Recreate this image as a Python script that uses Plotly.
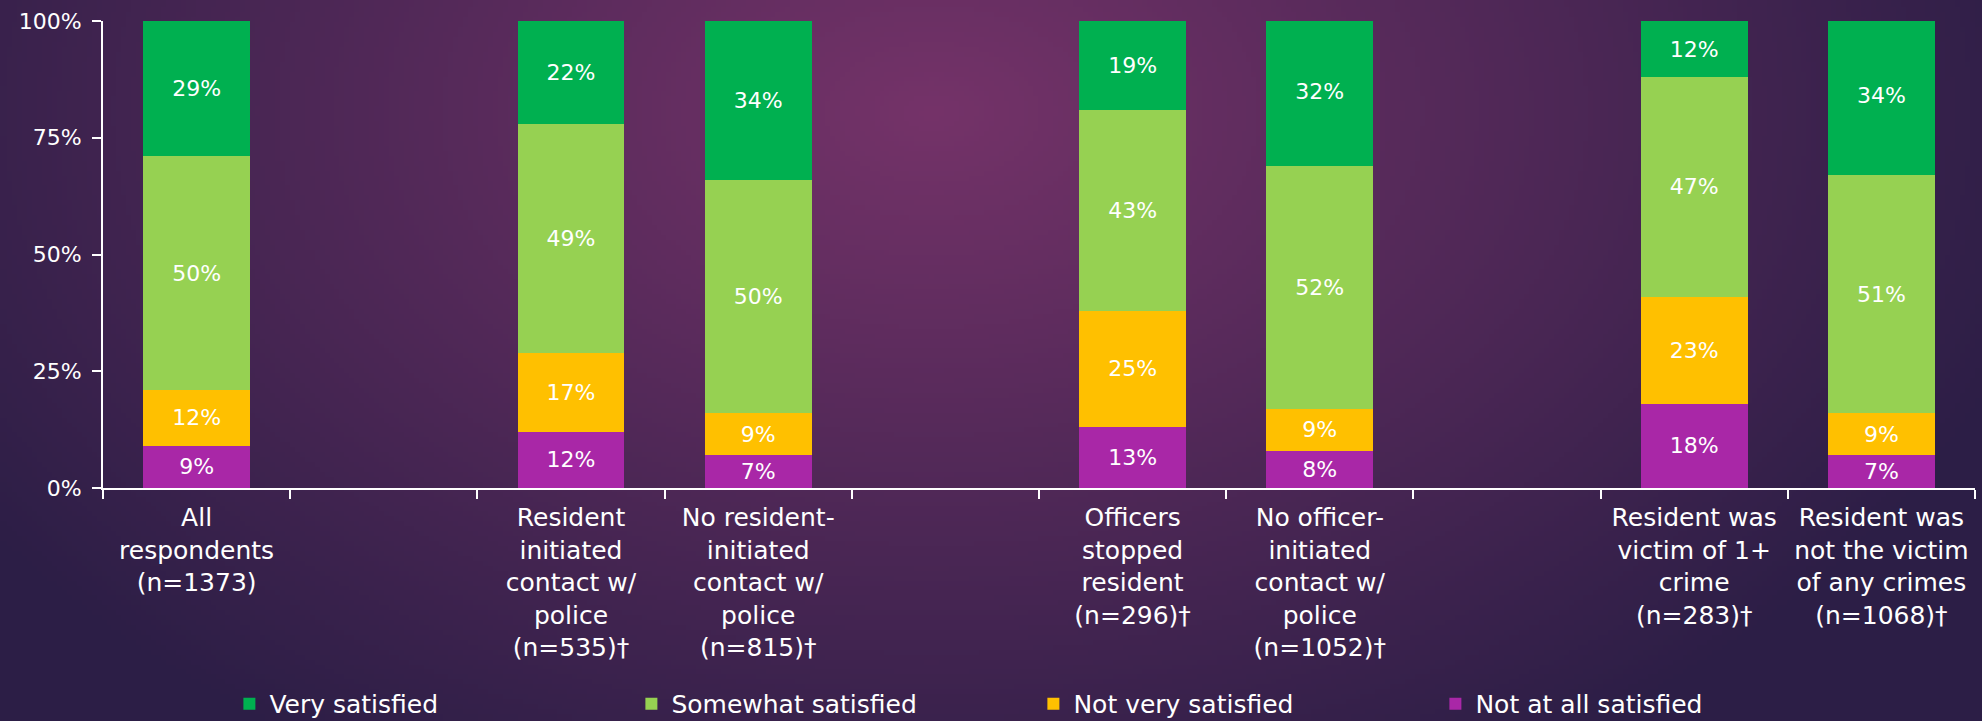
import base64
import struct
import zlib

import numpy as np
import plotly.graph_objects as go

# categories (blank ones are spacer slots between the groups)
categories = [
    "All<br>respondents<br>(n=1373)",
    " ",
    "Resident<br>initiated<br>contact w/<br>police<br>(n=535)†",
    "No resident-<br>initiated<br>contact w/<br>police<br>(n=815)†",
    "  ",
    "Officers<br>stopped<br>resident<br>(n=296)†",
    "No officer-<br>initiated<br>contact w/<br>police<br>(n=1052)†",
    "   ",
    "Resident was<br>victim of 1+<br>crime<br>(n=283)†",
    "Resident was<br>not the victim<br>of any crimes<br>(n=1068)†",
]

very_satisfied = [29, None, 22, 34, None, 19, 32, None, 12, 34]
somewhat_satisfied = [50, None, 49, 50, None, 43, 52, None, 47, 51]
not_very_satisfied = [12, None, 17, 9, None, 25, 9, None, 23, 9]
not_at_all_satisfied = [9, None, 12, 7, None, 13, 8, None, 18, 7]

y_ticks = [0, 25, 50, 75, 100]
y_tick_labels = ["0%", "25%", "50%", "75%", "100%"]

W, H = 1982, 721
ML, MR, MT, MB = 103, 7, 21, 233
font_family = "DejaVu Sans, sans-serif"


# purple radial background, built as a small png
def gradient_png(w=400, h=146):
    yy, xx = np.mgrid[0:h, 0:w]
    xx = xx * W / w
    yy = yy * H / h
    d = np.sqrt(((xx - 930) / 1150) ** 2 + ((yy - 110) / 760) ** 2)
    d = np.clip(d, 0, 1)
    c0 = np.array([117, 51, 105])
    c1 = np.array([44, 30, 70])
    img = (c0 + (c1 - c0) * d[..., None]).astype(np.uint8)
    raw = b"".join(b"\x00" + img[r].tobytes() for r in range(h))

    def chunk(tag, data):
        return struct.pack(">I", len(data)) + tag + data + struct.pack(">I", zlib.crc32(tag + data) & 0xffffffff)

    png = b"\x89PNG\r\n\x1a\n"
    png += chunk(b"IHDR", struct.pack(">IIBBBBB", w, h, 8, 2, 0, 0, 0))
    png += chunk(b"IDAT", zlib.compress(raw, 9))
    png += chunk(b"IEND", b"")
    return "data:image/png;base64," + base64.b64encode(png).decode()


series = [
    ("Not at all satisfied", not_at_all_satisfied, "#A927A7"),
    ("Not very satisfied", not_very_satisfied, "#FFC000"),
    ("Somewhat satisfied", somewhat_satisfied, "#96D152"),
    ("Very satisfied", very_satisfied, "#00B050"),
]

fig = go.Figure()
for name, vals, color in series:
    fig.add_trace(go.Bar(
        x=categories, y=vals, name=name,
        marker=dict(color=color, line=dict(width=0)),
        text=[f"{v}%" if v is not None else "" for v in vals],
        texttemplate="%{text}", textposition="inside", insidetextanchor="middle",
        textangle=0, constraintext="none",
        textfont=dict(color="white", size=22, family=font_family),
    ))

pw = W - ML - MR
ph = H - MT - MB
fig.add_layout_image(dict(
    source=gradient_png(), xref="paper", yref="paper",
    x=-ML / pw, y=1 + MT / ph, sizex=W / pw, sizey=H / ph,
    xanchor="left", yanchor="top", sizing="stretch", layer="below",
))

fig.update_layout(
    width=W, height=H,
    barmode="stack", bargap=0.43,
    paper_bgcolor="#4a2858", plot_bgcolor="rgba(0,0,0,0)",
    margin=dict(l=ML, r=MR, t=MT, b=MB, autoexpand=False),
    font=dict(family=font_family, color="white", size=24),
    showlegend=True,
    legend=dict(
        orientation="h", traceorder="reversed",
        x=0.497, xanchor="center", y=-0.4625, yanchor="middle",
        entrywidth=357, itemwidth=30,
        font=dict(size=25, color="white", family=font_family),
        bgcolor="rgba(0,0,0,0)",
    ),
    xaxis=dict(
        type="category", showgrid=False, showline=True, linecolor="white", linewidth=2,
        ticks="outside", tickson="boundaries", tickcolor="white", ticklen=9, tickwidth=2,
        tickfont=dict(size=25, color="white", family=font_family),
        ticklabelstandoff=6, automargin=False,
    ),
    yaxis=dict(
        range=[0, 100], tickvals=y_ticks, ticktext=y_tick_labels,
        showgrid=False, showline=True, linecolor="white", linewidth=2,
        ticks="outside", tickcolor="white", ticklen=9, tickwidth=2,
        tickfont=dict(size=22, color="white", family=font_family),
        ticklabelstandoff=6, zeroline=False, automargin=False,
    ),
)

fig.write_html("out.html", config={"displayModeBar": False},
               post_script="document.body.style.margin='0';")
